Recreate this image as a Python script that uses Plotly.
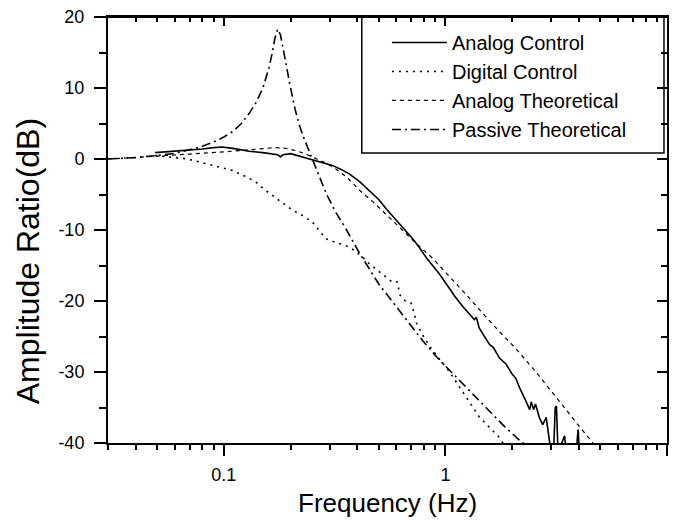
import math
import plotly.graph_objects as go

# ---------------- data ----------------
analog_ctrl_f = [0.049, 0.06, 0.07, 0.08, 0.09, 0.098, 0.11, 0.13, 0.15, 0.165, 0.175, 0.18, 0.185,
                 0.2, 0.22, 0.242, 0.27, 0.309, 0.34, 0.368, 0.41, 0.453, 0.5, 0.54, 0.58, 0.62,
                 0.71, 0.76, 0.82, 0.94, 1.0, 1.1, 1.2, 1.3, 1.35, 1.38, 1.42, 1.5, 1.58, 1.65,
                 1.75, 1.88, 2.0, 2.08, 2.16, 2.3, 2.4, 2.44, 2.5, 2.55, 2.66, 2.75, 2.85, 2.95,
                 3.0, 3.08, 3.13, 3.17, 3.22, 3.35, 3.45, 3.5, 3.9, 3.97, 4.02]
analog_ctrl_db = [0.9, 1.1, 1.2, 1.4, 1.6, 1.7, 1.5, 1.1, 0.9, 0.75, 0.6, 0.3, 0.6,
                  0.75, 0.4, 0.05, -0.4, -0.9, -1.5, -2.1, -3.2, -4.4, -5.7, -7.0, -8.1, -9.1,
                  -11.2, -12.4, -13.9, -16.2, -17.4, -19.3, -20.8, -22.0, -22.6, -22.3, -23.8, -25.0, -26.1, -26.6,
                  -28.0, -28.9, -30.3, -30.9, -32.2, -34.0, -35.3, -34.2, -35.3, -34.5, -36.5, -37.4, -36.4, -39.8,
                  -41.0, -41.0, -35.0, -34.8, -41.0, -40.0, -39.0, -41.0, -41.0, -38.1, -41.0]

digital_ctrl_f = [0.049, 0.058, 0.067, 0.075, 0.083, 0.095, 0.109, 0.124, 0.139, 0.154, 0.171, 0.19,
                  0.204, 0.225, 0.251, 0.27, 0.288, 0.31, 0.331, 0.355, 0.381, 0.40, 0.423, 0.455,
                  0.485, 0.52, 0.555, 0.58, 0.605, 0.625, 0.66, 0.70, 0.72, 0.74, 0.79, 0.85, 0.94,
                  1.04, 1.14, 1.24, 1.33, 1.42, 1.58, 1.75, 1.82]
digital_ctrl_db = [0.5, 0.3, 0.05, -0.3, -0.65, -1.1, -1.6, -2.4, -3.2, -4.4, -5.5, -6.5,
                   -7.2, -7.9, -8.9, -10.2, -11.2, -11.6, -11.9, -12.2, -12.7, -13.2, -13.8, -14.8,
                   -15.5, -16.2, -17.0, -17.4, -17.3, -19.2, -20.0, -20.3, -21.5, -23.1, -24.8, -26.4, -28.2,
                   -29.9, -31.8, -33.5, -35.0, -36.3, -37.8, -39.2, -40.0]

analog_theo_f = [0.03, 0.04, 0.05, 0.07, 0.09, 0.11, 0.13, 0.15, 0.17, 0.19, 0.21, 0.23, 0.26,
                 0.29, 0.32, 0.36, 0.41, 0.47, 0.54, 0.64, 0.75, 0.87, 1.0, 1.24, 1.5, 1.75,
                 2.05, 2.5, 3.06, 3.6, 4.1, 4.64]
analog_theo_db = [0.0, 0.2, 0.4, 0.7, 0.9, 1.1, 1.3, 1.5, 1.6, 1.5, 1.2, 0.8, 0.1,
                  -0.6, -1.4, -2.6, -4.4, -6.0, -7.8, -10.1, -12.1, -13.9, -15.9, -19.1, -22.0, -24.3,
                  -26.5, -29.6, -33.0, -35.8, -38.0, -40.0]

passive_theo_f = [0.03, 0.04, 0.05, 0.06, 0.07, 0.08, 0.09, 0.10, 0.11, 0.12, 0.13, 0.14, 0.15,
                  0.16, 0.165, 0.17, 0.175, 0.18, 0.185, 0.19, 0.20, 0.21, 0.22, 0.23, 0.25, 0.29,
                  0.32, 0.355, 0.41, 0.47, 0.50, 0.58, 0.68, 0.79, 0.92, 1.11, 1.3, 1.58, 1.85,
                  2.16, 2.25]
passive_theo_db = [0.0, 0.2, 0.5, 0.8, 1.3, 1.8, 2.4, 3.1, 3.9, 5.0, 6.4, 8.0, 10.0,
                   12.9, 14.8, 17.0, 18.3, 17.5, 15.6, 13.6, 10.0, 6.9, 4.6, 2.9, 0.0, -4.9,
                   -7.5, -9.8, -13.3, -16.2, -17.6, -20.2, -23.0, -25.6, -28.0, -30.6, -32.9, -35.6, -37.7,
                   -39.6, -40.0]

x_ticks = [0.1, 1, 10]
x_ticktext = ["0.1", "1", "10"]
x_minor = [0.03, 0.04, 0.05, 0.06, 0.07, 0.08, 0.09, 0.2, 0.3, 0.4, 0.5, 0.6, 0.7, 0.8, 0.9,
           2, 3, 4, 5, 6, 7, 8, 9]
y_ticks = [-40, -30, -20, -10, 0, 10, 20]
y_ticktext = ["-40", "-30", "-20", "-10", "0", "10", "20"]
y_minor = [-35, -25, -15, -5, 5, 15]
x_range = [0.03, 10]
y_range = [-40, 20]

FONT = "Liberation Sans, Arial, Helvetica, sans-serif"

fig = go.Figure()
fig.add_trace(go.Scatter(x=analog_ctrl_f, y=analog_ctrl_db, mode="lines", name="Analog Control",
                         line=dict(color="black", width=1.6)))
fig.add_trace(go.Scatter(x=digital_ctrl_f, y=digital_ctrl_db, mode="lines", name="Digital Control",
                         line=dict(color="black", width=1.6, dash="2px,5px")))
fig.add_trace(go.Scatter(x=analog_theo_f, y=analog_theo_db, mode="lines", name="Analog Theoretical",
                         xaxis="x", yaxis="y2",
                         line=dict(color="black", width=1.2, dash="4px,4px")))
fig.add_trace(go.Scatter(x=passive_theo_f, y=passive_theo_db, mode="lines", name="Passive Theoretical",
                         xaxis="x2", yaxis="y",
                         line=dict(color="black", width=1.6, dash="9px,4px,2px,4px")))

lx = [math.log10(v) for v in x_range]
common_x = dict(type="log", range=lx, showgrid=False, zeroline=False, showline=True,
                linecolor="black", linewidth=2, tickcolor="black", tickwidth=1.5, automargin=False)
common_y = dict(range=y_range, showgrid=False, zeroline=False, showline=True,
                linecolor="black", linewidth=2, tickcolor="black", tickwidth=1.5, automargin=False)

fig.update_layout(
    width=676, height=522,
    margin=dict(l=108, r=9, t=17, b=79, autoexpand=False),
    plot_bgcolor="white", paper_bgcolor="white",
    font=dict(family=FONT, color="black"),
    xaxis=dict(**common_x, tickmode="array", tickvals=x_ticks, ticktext=x_ticktext,
               ticks="outside", ticklen=11, ticklabelstandoff=3, mirror=True,
               tickfont=dict(size=18),
               minor=dict(tickmode="array", tickvals=x_minor, ticks="outside", ticklen=5,
                          tickcolor="black", tickwidth=1.5)),
    xaxis2=dict(**common_x, overlaying="x", side="top", anchor="y", tickmode="array",
                tickvals=x_ticks, ticks="inside", ticklen=9, showticklabels=False,
                minor=dict(tickmode="array", tickvals=x_minor, ticks="inside", ticklen=5,
                           tickcolor="black", tickwidth=1.5)),
    yaxis=dict(**common_y, tickmode="array", tickvals=y_ticks, ticktext=y_ticktext,
               ticks="outside", ticklen=12, ticklabelstandoff=6, mirror=True, tickfont=dict(size=18),
               minor=dict(tickmode="array", tickvals=y_minor, ticks="outside", ticklen=7,
                          tickcolor="black", tickwidth=1.5)),
    yaxis2=dict(**common_y, overlaying="y", side="right", anchor="x", tickmode="array",
                tickvals=y_ticks, ticks="inside", ticklen=10, showticklabels=False,
                minor=dict(tickmode="array", tickvals=y_minor, ticks="inside", ticklen=6,
                           tickcolor="black", tickwidth=1.5)),
    legend=dict(x=0.499, y=0.986, xanchor="left", yanchor="top", bgcolor="rgba(0,0,0,0)",
                borderwidth=0, font=dict(size=20, family=FONT),
                itemwidth=55, traceorder="normal"),
    shapes=[
        dict(type="rect", xref="paper", yref="paper", x0=0.454, x1=0.9946, y0=0.6805, y1=1.0,
             line=dict(color="black", width=1.5), fillcolor="white", layer="below"),
        dict(type="line", xref="paper", yref="paper", x0=0, x1=1, y0=1, y1=1,
             line=dict(color="black", width=2), layer="above"),
    ],
    annotations=[
        dict(text="Amplitude Ratio(dB)", textangle=-90, xref="paper", yref="paper",
             x=-0.143, y=0.4268, xanchor="center", yanchor="middle", showarrow=False,
             font=dict(size=32, family=FONT)),
        dict(text="Frequency (Hz)", xref="paper", yref="paper",
             x=0.5, y=-0.1416, xanchor="center", yanchor="middle", showarrow=False,
             font=dict(size=26, family=FONT)),
    ],
)

fig.write_html("out.html", config={"displayModeBar": False},
               post_script="document.body.style.margin='0';document.body.style.overflow='hidden';")
